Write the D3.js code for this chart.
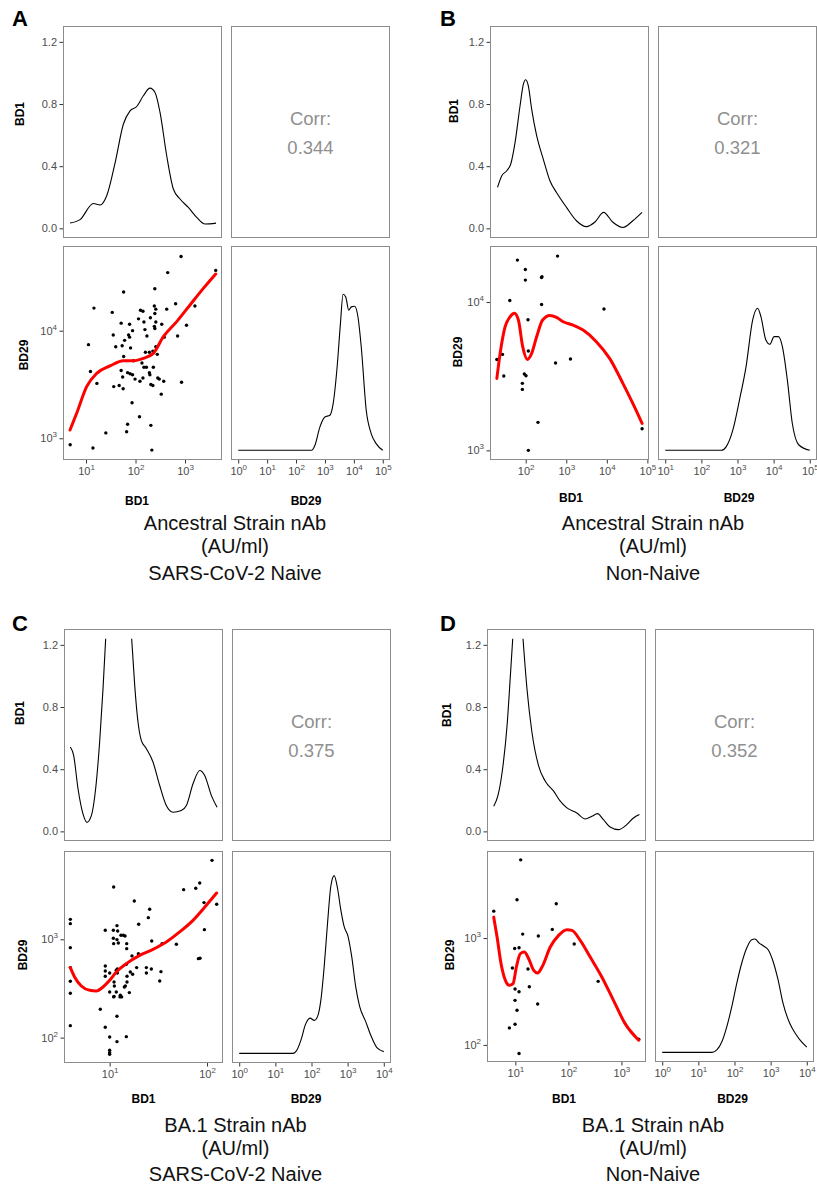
<!DOCTYPE html>
<html><head><meta charset="utf-8">
<script src="https://cdn.jsdelivr.net/npm/d3@7"></script>
<style>body{margin:0;background:#fff} svg{display:block}</style>
</head><body><svg id="chart" width="817" height="1185"></svg>
<script>
// ---------- DATA (log10 of AU/ml on the antibody axes; density on diagonal panels) ----------
// Panel A : Ancestral strain, SARS-CoV-2 naive
const aPoints = [[0.68,2.94],[1.14,2.91],[2.33,2.89],[2.92,4.69],[2.65,4.54],[3.62,4.56],[1.76,4.36],[2.39,4.39],[1.16,4.21],[1.53,4.17],[2.10,4.19],[2.15,4.18],[2.38,4.23],[2.41,4.20],[2.63,4.20],[2.81,4.25],[3.20,4.23],[2.39,4.16],[2.06,4.11],[2.17,4.08],[2.30,4.12],[2.41,4.08],[1.71,4.07],[1.88,4.06],[2.53,4.06],[2.38,4.04],[2.39,4.02],[2.19,4.01],[3.03,4.05],[1.05,3.87],[1.55,3.96],[1.94,4.00],[1.86,3.96],[1.88,3.94],[1.78,3.91],[1.90,3.84],[1.73,3.86],[1.60,3.85],[2.23,3.95],[2.58,3.94],[2.85,3.95],[2.41,3.85],[2.20,3.80],[2.28,3.80],[2.35,3.81],[2.44,3.78],[1.76,3.76],[2.13,3.70],[1.96,3.72],[1.71,3.63],[1.84,3.61],[1.89,3.60],[1.94,3.59],[1.74,3.57],[1.99,3.55],[2.09,3.53],[2.15,3.56],[2.22,3.66],[2.28,3.61],[2.36,3.66],[2.29,3.59],[2.45,3.56],[2.48,3.55],[2.57,3.53],[1.09,3.62],[1.22,3.51],[1.56,3.48],[1.67,3.49],[1.75,3.46],[2.31,3.50],[2.35,3.49],[2.93,3.52],[2.52,3.41],[1.93,3.33],[2.08,3.20],[1.84,3.13],[1.82,3.06],[1.40,3.05],[2.31,3.12],[2.17,3.66]];
const aSmooth = [[0.677,3.077],[0.811,3.232],[1.013,3.48],[1.215,3.603],[1.485,3.672],[1.754,3.721],[1.956,3.721],[2.158,3.743],[2.36,3.789],[2.562,3.944],[2.832,4.084],[3.101,4.239],[3.37,4.393],[3.62,4.527]];
const aDensBD1 = [[0.677,0.034],[0.879,0.056],[1.148,0.16],[1.283,0.15],[1.418,0.21],[1.586,0.42],[1.754,0.67],[1.889,0.756],[2.024,0.784],[2.158,0.853],[2.293,0.902],[2.394,0.874],[2.495,0.746],[2.63,0.467],[2.764,0.253],[2.899,0.189],[3.067,0.135],[3.236,0.071],[3.404,0.028],[3.626,0.034]];
const aDensBD29 = [[0,0],[2.54,0],[2.654,0.026],[2.826,0.12],[2.998,0.171],[3.169,0.18],[3.284,0.24],[3.421,0.428],[3.535,0.651],[3.627,0.802],[3.719,0.788],[3.822,0.72],[3.913,0.737],[4.027,0.74],[4.142,0.685],[4.256,0.531],[4.428,0.206],[4.6,0.086],[4.771,0.034],[5.0,0.0]];
const aCorr = "0.344";

// Panel B : Ancestral strain, non-naive
const bPoints = [[1.289,3.613],[1.428,3.647],[1.46,3.501],[1.608,4.011],[1.796,4.283],[1.992,4.22],[1.992,4.148],[2.401,4.171],[2.39,4.165],[2.392,3.984],[2.785,4.31],[2.057,3.881],[2.065,3.67],[1.967,3.515],[2.008,3.503],[1.918,3.452],[1.918,3.411],[2.736,3.589],[3.104,3.616],[3.93,3.953],[2.303,3.189],[2.065,3.0],[4.87,3.146]];
const bSmooth = [[1.289,3.485],[1.37,3.654],[1.493,3.834],[1.616,3.901],[1.722,3.924],[1.82,3.879],[1.926,3.699],[2.041,3.613],[2.147,3.654],[2.27,3.766],[2.417,3.879],[2.597,3.91],[2.76,3.897],[2.924,3.867],[3.169,3.845],[3.415,3.811],[3.742,3.733],[4.069,3.62],[4.396,3.452],[4.641,3.317],[4.87,3.182]];
const bDensBD1 = [[1.305,0.264],[1.411,0.339],[1.534,0.371],[1.632,0.414],[1.738,0.553],[1.861,0.789],[1.943,0.928],[2.0,0.956],[2.065,0.917],[2.147,0.767],[2.27,0.596],[2.433,0.446],[2.597,0.306],[2.76,0.231],[3.006,0.135],[3.251,0.049],[3.496,0.011],[3.701,0.039],[3.921,0.103],[4.15,0.039],[4.396,0.006],[4.641,0.049],[4.87,0.103]];
const bDensBD29 = [[1,0],[2.553,0],[2.689,0.019],[2.872,0.105],[3.055,0.259],[3.237,0.43],[3.42,0.67],[3.557,0.73],[3.648,0.687],[3.785,0.567],[3.895,0.545],[4.014,0.584],[4.132,0.584],[4.242,0.533],[4.379,0.362],[4.516,0.139],[4.699,0.027],[5.0,0]];
const bCorr = "0.321";

// Panel C : BA.1 strain, SARS-CoV-2 naive
const cPoints = [[0.596,3.203],[0.596,3.159],[0.596,2.915],[0.596,2.712],[0.596,2.573],[0.596,2.451],[0.596,2.122],[1.041,3.532],[1.253,3.39],[1.411,3.305],[1.397,3.22],[1.298,3.153],[0.955,3.092],[1.038,3.092],[1.075,3.139],[1.082,3.085],[1.116,3.041],[1.14,3.041],[1.158,3.034],[1.038,3.01],[1.075,2.997],[1.041,2.956],[1.089,2.963],[1.175,2.956],[1.175,2.905],[1.295,2.854],[1.229,2.831],[1.432,2.983],[1.538,2.956],[1.685,2.949],[1.76,3.505],[1.884,3.519],[1.925,3.573],[2.051,3.803],[1.969,3.373],[2.099,3.356],[1.973,3.098],[1.911,2.803],[1.928,2.807],[0.955,2.729],[0.955,2.678],[0.955,2.624],[1.0,2.658],[1.079,2.698],[1.079,2.658],[1.045,2.566],[1.171,2.746],[1.178,2.624],[1.178,2.566],[1.161,2.525],[1.151,2.515],[1.212,2.668],[1.236,2.644],[1.277,2.712],[1.377,2.712],[1.377,2.658],[1.428,2.698],[1.527,2.671],[1.514,2.576],[1.048,2.525],[1.068,2.464],[1.0,2.464],[1.11,2.431],[1.106,2.414],[1.041,2.414],[1.202,2.458],[0.904,2.288],[0.955,2.105],[1.0,2.007],[1.0,1.871],[1.0,1.847],[1.0,1.831],[1.075,2.217],[1.075,1.959],[1.171,2.01],[1.045,2.42],[1.068,2.685],[1.123,2.414]];
const cSmooth = [[0.596,2.712],[0.64,2.617],[0.709,2.525],[0.795,2.481],[0.863,2.475],[0.932,2.515],[1.0,2.583],[1.068,2.668],[1.171,2.753],[1.308,2.837],[1.445,2.898],[1.582,2.973],[1.719,3.075],[1.856,3.193],[1.993,3.346],[2.099,3.471]];
const cDensBD1 = [[0.596,0.543],[0.63,0.489],[0.675,0.274],[0.726,0.112],[0.767,0.058],[0.812,0.101],[0.856,0.274],[0.897,0.575],[0.932,0.92],[0.959,1.239],[1.0,1.9],[1.05,2.5],[1.1,2.6],[1.15,2.2],[1.2,1.6],[1.226,1.239],[1.257,0.941],[1.291,0.704],[1.325,0.586],[1.377,0.532],[1.445,0.446],[1.514,0.295],[1.582,0.166],[1.651,0.123],[1.736,0.134],[1.788,0.166],[1.856,0.306],[1.925,0.392],[1.976,0.36],[2.045,0.23],[2.103,0.155]];
const cDensBD29 = [[0,0],[1.483,0],[1.602,0.019],[1.712,0.071],[1.831,0.149],[1.959,0.183],[2.078,0.171],[2.169,0.192],[2.261,0.279],[2.352,0.452],[2.444,0.676],[2.535,0.867],[2.627,0.922],[2.719,0.858],[2.81,0.746],[2.902,0.659],[3.011,0.607],[3.112,0.503],[3.222,0.348],[3.332,0.244],[3.497,0.166],[3.634,0.097],[3.817,0.028],[4.0,0.009]];
const cCorr = "0.375";

// Panel D : BA.1 strain, non-naive
const dPoints = [[0.592,3.252],[1.1,3.732],[1.031,3.358],[1.771,3.321],[1.138,3.037],[1.433,3.019],[1.696,3.081],[2.11,2.944],[0.987,2.903],[1.069,2.91],[0.944,2.72],[1.238,2.71],[0.994,2.523],[1.069,2.498],[1.263,2.545],[0.994,2.417],[1.42,2.383],[1.031,2.324],[0.887,2.159],[0.994,2.193],[1.069,1.919],[2.561,2.595],[3.326,2.053]];
const dSmooth = [[0.592,3.196],[0.655,3.009],[0.73,2.76],[0.812,2.604],[0.887,2.558],[0.956,2.573],[1.019,2.729],[1.094,2.854],[1.169,2.869],[1.251,2.807],[1.345,2.698],[1.42,2.673],[1.502,2.729],[1.658,2.916],[1.815,3.025],[1.972,3.078],[2.066,3.072],[2.223,2.978],[2.411,2.822],[2.63,2.636],[2.85,2.417],[3.069,2.199],[3.326,2.044]];
const dDensBD1 = [[0.592,0.162],[0.668,0.226],[0.749,0.377],[0.843,0.679],[0.906,1.002],[0.95,1.239],[1.0,2.0],[1.05,2.4],[1.1,1.9],[1.144,1.239],[1.219,0.916],[1.313,0.636],[1.439,0.42],[1.564,0.323],[1.721,0.259],[1.846,0.194],[1.972,0.151],[2.16,0.118],[2.317,0.08],[2.442,0.097],[2.549,0.114],[2.661,0.075],[2.787,0.028],[2.944,0.011],[3.1,0.043],[3.226,0.086],[3.339,0.108]];
const dDensBD29 = [[0,0],[1.379,0],[1.516,0.014],[1.653,0.057],[1.79,0.136],[1.927,0.24],[2.064,0.361],[2.201,0.466],[2.338,0.544],[2.475,0.587],[2.566,0.591],[2.685,0.57],[2.795,0.556],[2.932,0.535],[3.068,0.474],[3.205,0.379],[3.342,0.257],[3.525,0.153],[3.708,0.092],[3.845,0.057],[4.0,0.028]];
const dCorr = "0.352";

// axis ticks
const densTicks = [0, 0.4, 0.8, 1.2];
const densLimit = 1.245;

// ---------- LAYOUT ----------
const FONT = "'Liberation Sans', Arial, Helvetica, sans-serif";
const figs = [
  {id:"A", letter:[12,26], col1:[63,222], col2:[231,390], row1:[26,238], row2:[246,460],
   xDom:[0.535,3.747], yDom:[2.798,4.787], dxDom:[-0.25,5.25], xTicks:[1,2,3], yTicks:[3,4], dxTicks:[0,1,2,3,4,5],
   points:aPoints, smooth:aSmooth, densTop:aDensBD1, densBR:aDensBD29, corr:aCorr,
   title:["Ancestral Strain nAb","(AU/ml)","SARS-CoV-2 Naive"], titleX:235, titleY:[529.5,553,580],
   yLab1:[24,114], yLab2:[28,355], xLab1:[137,505], xLab2:[306,505]},
  {id:"B", letter:[440,26], col1:[490,649], col2:[658,817], row1:[26,238], row2:[246,460],
   xDom:[1.12,5.04], yDom:[2.935,4.378], dxDom:[0.8,5.2], xTicks:[2,3,4,5], yTicks:[3,4], dxTicks:[1,2,3,4,5],
   points:bPoints, smooth:bSmooth, densTop:bDensBD1, densBR:bDensBD29, corr:bCorr,
   title:["Ancestral Strain nAb","(AU/ml)","Non-Naive"], titleX:653, titleY:[529.5,553,580],
   yLab1:[458,111], yLab2:[462,352], xLab1:[571,502], xLab2:[739,502]},
  {id:"C", letter:[12,631], col1:[64,223], col2:[232,391], row1:[629,841], row2:[851,1063],
   xDom:[0.531,2.164], yDom:[1.742,3.898], dxDom:[-0.2,4.2], xTicks:[1,2], yTicks:[2,3], dxTicks:[0,1,2,3,4],
   points:cPoints, smooth:cSmooth, densTop:cDensBD1, densBR:cDensBD29, corr:cCorr,
   title:["BA.1 Strain nAb","(AU/ml)","SARS-CoV-2 Naive"], titleX:235.5, titleY:[1131.5,1155,1180.5],
   yLab1:[24,713], yLab2:[27,955], xLab1:[143.5,1102.5], xLab2:[306,1102.5]},
  {id:"D", letter:[440,631], col1:[487,646], col2:[655,814], row1:[629,841], row2:[851,1062],
   xDom:[0.465,3.463], yDom:[1.84,3.815], dxDom:[-0.2,4.2], xTicks:[1,2,3], yTicks:[2,3], dxTicks:[0,1,2,3,4],
   points:dPoints, smooth:dSmooth, densTop:dDensBD1, densBR:dDensBD29, corr:dCorr,
   title:["BA.1 Strain nAb","(AU/ml)","Non-Naive"], titleX:653, titleY:[1131.5,1155,1180.5],
   yLab1:[451,715], yLab2:[454,955], xLab1:[564,1103], xLab2:[732.5,1103]}
];

const svg = d3.select("#chart");
const defs = svg.append("defs");

function supFormat(sel) {
  sel.each(function(d) {
    const t = d3.select(this);
    t.text(null);
    t.append("tspan").text("10");
    t.append("tspan").attr("dy", -5).attr("font-size", 8).text(d);
  });
}

function styleAxis(g) {
  g.attr("font-family", FONT).attr("font-size", 11);
  g.select(".domain").remove();
  g.selectAll(".tick line").attr("stroke", "#333").attr("stroke-width", 1);
  g.selectAll(".tick text").attr("fill", "#4d4d4d");
}

function drawFigure(f) {
  const [c1a,c1b]=f.col1, [c2a,c2b]=f.col2, [r1a,r1b]=f.row1, [r2a,r2b]=f.row2;
  const x1 = d3.scaleLinear().domain(f.xDom).range([c1a,c1b]);
  const y2 = d3.scaleLinear().domain(f.yDom).range([r2b,r2a]);
  const x2 = d3.scaleLinear().domain(f.dxDom).range([c2a,c2b]);
  const yd1 = d3.scaleLinear().domain([-0.062,1.302]).range([r1b,r1a]);
  const yd2 = d3.scaleLinear().domain([-0.05,1.05]).range([r2b,r2a]);

  const panels = {tl:[c1a,r1a,c1b,r1b], tr:[c2a,r1a,c2b,r1b], bl:[c1a,r2a,c1b,r2b], br:[c2a,r2a,c2b,r2b]};
  Object.entries(panels).forEach(([k,p]) => {
    defs.append("clipPath").attr("id", `clip${f.id}${k}`).append("rect")
      .attr("x", p[0]).attr("y", p[1]).attr("width", p[2]-p[0]).attr("height", p[3]-p[1]);
    svg.append("rect").attr("x", p[0]).attr("y", p[1]).attr("width", p[2]-p[0]).attr("height", p[3]-p[1]).attr("fill", "#fff");
  });

  // top-left: density of BD1
  const lineTop = d3.line().defined(d => d[1] <= densLimit).x(d => x1(d[0])).y(d => yd1(d[1])).curve(d3.curveMonotoneX);
  svg.append("path").datum(f.densTop).attr("clip-path", `url(#clip${f.id}tl)`)
    .attr("d", lineTop).attr("fill", "none").attr("stroke", "#000").attr("stroke-width", 1.1);

  // top-right: correlation text
  const cx = (c2a + c2b) / 2;
  svg.append("text").attr("x", cx).attr("y", r1a + 99).attr("text-anchor", "middle")
    .attr("font-family", FONT).attr("font-size", 18.5).attr("fill", "#8f8f8f").text("Corr:");
  svg.append("text").attr("x", cx).attr("y", r1a + 128).attr("text-anchor", "middle")
    .attr("font-family", FONT).attr("font-size", 18.5).attr("fill", "#8f8f8f").text(f.corr);

  // bottom-left: scatter + smooth
  const gS = svg.append("g").attr("clip-path", `url(#clip${f.id}bl)`);
  gS.selectAll("circle").data(f.points).join("circle")
    .attr("cx", d => x1(d[0])).attr("cy", d => y2(d[1])).attr("r", 1.7).attr("fill", "#000");
  const lineS = d3.line().x(d => x1(d[0])).y(d => y2(d[1])).curve(d3.curveMonotoneX);
  gS.append("path").datum(f.smooth).attr("d", lineS).attr("fill", "none")
    .attr("stroke", "#ff0000").attr("stroke-width", 3).attr("stroke-linecap", "round");

  // bottom-right: density of BD29
  const lineBR = d3.line().x(d => x2(d[0])).y(d => yd2(d[1])).curve(d3.curveMonotoneX);
  svg.append("path").datum(f.densBR).attr("clip-path", `url(#clip${f.id}br)`)
    .attr("d", lineBR).attr("fill", "none").attr("stroke", "#000").attr("stroke-width", 1.1);

  // borders
  Object.values(panels).forEach(p => {
    svg.append("rect").attr("x", p[0]+0.5).attr("y", p[1]+0.5).attr("width", p[2]-p[0]-1).attr("height", p[3]-p[1]-1)
      .attr("fill", "none").attr("stroke", "#8c8c8c").attr("stroke-width", 1);
  });

  // axes
  const gy1 = svg.append("g").attr("transform", `translate(${c1a},0)`)
    .call(d3.axisLeft(yd1).tickValues(densTicks).tickFormat(d3.format(".1f")).tickSize(3.5).tickPadding(2.5));
  styleAxis(gy1);
  const gy2 = svg.append("g").attr("transform", `translate(${c1a},0)`)
    .call(d3.axisLeft(y2).tickValues(f.yTicks).tickSize(3.5).tickPadding(2.5));
  styleAxis(gy2); gy2.selectAll(".tick text").call(supFormat);
  const gx1 = svg.append("g").attr("transform", `translate(0,${r2b})`)
    .call(d3.axisBottom(x1).tickValues(f.xTicks).tickSize(3.5).tickPadding(3.5));
  styleAxis(gx1); gx1.selectAll(".tick text").call(supFormat);
  const gx2 = svg.append("g").attr("transform", `translate(0,${r2b})`)
    .call(d3.axisBottom(x2).tickValues(f.dxTicks).tickSize(3.5).tickPadding(3.5));
  styleAxis(gx2); gx2.selectAll(".tick text").call(supFormat);

  // axis titles
  const lab = (x, y, txt, rot) => svg.append("text")
    .attr("transform", `translate(${x},${y})` + (rot ? " rotate(-90)" : ""))
    .attr("text-anchor", "middle").attr("font-family", FONT).attr("font-weight", "bold")
    .attr("font-size", 12).attr("fill", "#000").text(txt);
  lab(f.yLab1[0], f.yLab1[1], "BD1", true);
  lab(f.yLab2[0], f.yLab2[1], "BD29", true);
  lab(f.xLab1[0], f.xLab1[1], "BD1", false);
  lab(f.xLab2[0], f.xLab2[1], "BD29", false);

  // panel letter
  svg.append("text").attr("x", f.letter[0]).attr("y", f.letter[1]).attr("font-family", FONT)
    .attr("font-weight", "bold").attr("font-size", 22).attr("fill", "#000").text(f.id);

  // caption
  f.title.forEach((t, i) => svg.append("text").attr("x", f.titleX).attr("y", f.titleY[i])
    .attr("text-anchor", "middle").attr("font-family", FONT).attr("font-size", 20)
    .attr("fill", "#111").text(t));
}

figs.forEach(drawFigure);
</script></body></html>
